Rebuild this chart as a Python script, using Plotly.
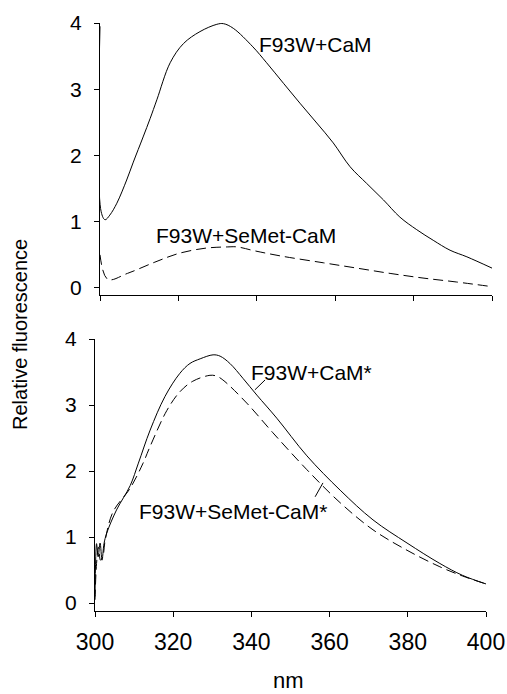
import plotly.graph_objects as go

# ---- data ----
top_cam_nm = [300, 300.3, 301.3, 302.5, 304.3, 306.8, 308.5, 311, 312.8, 314.5, 317.9, 321.3,
              325.5, 329.8, 331.5, 334, 339, 342.5, 346.8, 351, 355.3, 359.5, 363.8, 368,
              372.3, 376.5, 380.8, 385, 389.3, 393.6, 400]
top_cam_val = [3.95, 1.15, 1.03, 1.10, 1.28, 1.63, 1.90, 2.28, 2.56, 2.84, 3.40, 3.69,
               3.87, 3.98, 3.99, 3.92, 3.64, 3.40, 3.09, 2.79, 2.49, 2.19, 1.83, 1.58,
               1.33, 1.07, 0.88, 0.72, 0.57, 0.47, 0.30]

top_se_nm = [300, 302, 307, 314, 320, 326.8, 332.6, 335, 339.5, 346.4, 357, 365.5, 374, 382.4, 391, 400]
top_se_val = [0.50, 0.13, 0.22, 0.39, 0.52, 0.60, 0.62, 0.62, 0.56, 0.48, 0.38, 0.30, 0.22, 0.15, 0.09, 0.02]

bot_cam_nm = [300, 300.4, 300.8, 301.3, 301.8, 302.3, 303, 305.5, 309, 311.1, 314.1, 317.9, 321.7,
              324.3, 326.9, 330.2, 332, 334.5, 337.9, 341.4, 346.5, 354.2, 362.7, 371.1,
              379.8, 388.2, 394, 400]
bot_cam_val = [0.10, 0.90, 0.70, 0.91, 0.65, 0.90, 1.06, 1.41, 1.78, 2.12, 2.62, 3.13, 3.48,
               3.63, 3.70, 3.76, 3.74, 3.63, 3.40, 3.15, 2.80, 2.23, 1.71, 1.26,
               0.91, 0.60, 0.42, 0.29]

bot_se_nm = [300, 300.4, 300.9, 301.4, 302, 302.6, 304.6, 309, 312.3, 314, 318.4, 321.7, 325,
             329.4, 331, 332.7, 338.8, 345.5, 354.2, 362.7, 371.1, 379.8, 388.2, 394, 400]
bot_se_val = [0.05, 0.60, 0.85, 0.65, 0.70, 0.95, 1.38, 1.74, 2.12, 2.36, 2.92, 3.20, 3.36,
              3.45, 3.44, 3.38, 3.03, 2.58, 2.02, 1.52, 1.11, 0.80, 0.55, 0.41, 0.29]

y_ticks = [0, 1, 2, 3, 4]
x_ticks = [300, 320, 340, 360, 380, 400]

W, H = 507, 694
FONT = "Liberation Sans, Arial, sans-serif"

def px(x):
    return x / W

def py(y):
    return 1 - y / H

fig = go.Figure()
line_solid = dict(color="black", width=1)
line_dash = dict(color="black", width=1, dash="10px,5px")

fig.add_trace(go.Scatter(x=top_cam_nm, y=top_cam_val, mode="lines", line=line_solid,
                         line_shape="spline", xaxis="x", yaxis="y"))
fig.add_trace(go.Scatter(x=top_se_nm, y=top_se_val, mode="lines", line=line_dash,
                         line_shape="spline", xaxis="x", yaxis="y"))
fig.add_trace(go.Scatter(x=bot_cam_nm, y=bot_cam_val, mode="lines", line=line_solid,
                         line_shape="spline", xaxis="x2", yaxis="y2"))
fig.add_trace(go.Scatter(x=bot_se_nm, y=bot_se_val, mode="lines", line=line_dash,
                         line_shape="spline", xaxis="x2", yaxis="y2"))

axis_common = dict(showgrid=False, zeroline=False, showline=True, linecolor="black",
                   linewidth=1, ticks="outside", ticklen=5, tickcolor="black",
                   automargin=False)

fig.update_layout(
    width=W, height=H,
    margin=dict(l=0, r=0, t=0, b=0),
    paper_bgcolor="white", plot_bgcolor="white",
    showlegend=False,
    font=dict(family=FONT, color="black"),
    xaxis=dict(axis_common, domain=[px(100), px(492)], range=[300, 400], tickvals=x_ticks,
               showticklabels=False, anchor="y"),
    yaxis=dict(axis_common, domain=[py(295), py(23)], range=[-0.106, 4.0], tickvals=y_ticks,
               tickfont=dict(size=21), ticklabelstandoff=8, anchor="x"),
    xaxis2=dict(axis_common, domain=[px(95), px(486)], range=[300, 400], tickvals=x_ticks,
                tickfont=dict(size=23), ticklabelstandoff=5, anchor="y2"),
    yaxis2=dict(axis_common, domain=[py(611), py(339)], range=[-0.12, 4.0], tickvals=y_ticks,
                tickfont=dict(size=21), ticklabelstandoff=8, anchor="x2"),
)

ann_font = dict(size=21, family=FONT, color="black")
annotations = [
    dict(text="F93W+CaM", x=px(315), y=py(44)),
    dict(text="F93W+SeMet-CaM", x=px(246), y=py(236)),
    dict(text="F93W+CaM*", x=px(311), y=py(372)),
    dict(text="F93W+SeMet-CaM*", x=px(233), y=py(512)),
]
for a in annotations:
    fig.add_annotation(xref="paper", yref="paper", showarrow=False, font=ann_font,
                       xanchor="center", yanchor="middle", **a)

fig.add_annotation(text="Relative fluorescence", xref="paper", yref="paper",
                   x=px(20), y=py(335), showarrow=False, textangle=-90,
                   font=dict(size=20, family=FONT, color="black"),
                   xanchor="center", yanchor="middle")
fig.add_annotation(text="nm", xref="paper", yref="paper", x=px(288), y=0,
                   showarrow=False, font=dict(size=22, family=FONT, color="black"),
                   xanchor="center", yanchor="bottom", borderpad=0)

# pointer lines (bottom panel)
fig.add_shape(type="line", xref="x2", yref="y2", x0=343.5, y0=3.38, x1=340.9, y1=3.23,
              line=dict(color="black", width=1))
fig.add_shape(type="line", xref="x2", yref="y2", x0=356.3, y0=1.61, x1=358.3, y1=1.82,
              line=dict(color="black", width=1))

fig.write_html("out.html")
